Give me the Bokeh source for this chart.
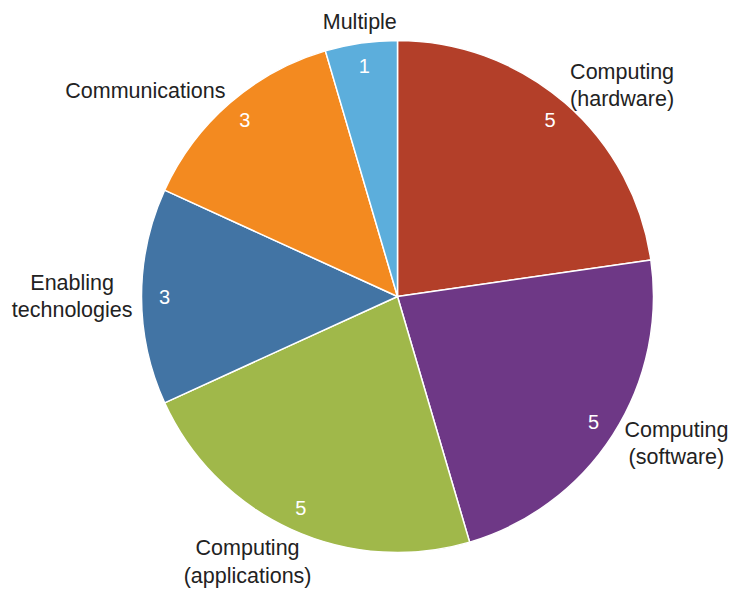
import math
from bokeh.plotting import figure
from bokeh.models import Range1d, ColumnDataSource
from bokeh.core.properties import value
from bokeh.embed import file_html
from bokeh.resources import INLINE

# ---- data ----
categories = ["Computing\n(hardware)", "Computing\n(software)", "Computing\n(applications)",
              "Enabling\ntechnologies", "Communications", "Multiple"]
counts = [5, 5, 5, 3, 3, 1]
colors = ["#B33F29", "#6E3886", "#A0B84A", "#4274A4", "#F38A20", "#5CAEDC"]

# ---- layout ----
W, H = 735, 590
CX, CY, R = 397, 294, 256
R_NUM, R_LAB = 233, 265
FS = 21.5
LHF = 1.15
LH = FS * LHF

AW = {'C': 722, 'o': 556, 'm': 833, 'p': 556, 'u': 556, 't': 278, 'i': 222, 'n': 556,
      'g': 556, '(': 333, ')': 333, 'h': 556, 'a': 556, 'r': 333, 'd': 556, 'w': 722,
      'e': 556, 's': 500, 'f': 278, 'l': 222, 'c': 500, 'E': 667, 'b': 556, 'M': 833,
      'y': 500, ' ': 278}


def text_w(s):
    return max(sum(AW.get(ch, 556) for ch in line) for line in s.split("\n")) / 1000 * FS


total = sum(counts)
starts, ends, mids = [], [], []
cum = 0
for v in counts:
    a0 = math.pi / 2 - 2 * math.pi * cum / total
    a1 = math.pi / 2 - 2 * math.pi * (cum + v) / total
    starts.append(a0)
    ends.append(a1)
    mids.append((a0 + a1) / 2)
    cum += v

nx = [CX + R_NUM * math.cos(m) for m in mids]
ny = [CY + R_NUM * math.sin(m) for m in mids]

lx, ly = [], []
for lab, m in zip(categories, mids):
    c, s = math.cos(m), math.sin(m)
    ax, ay = CX + R_LAB * c, CY + R_LAB * s
    w = text_w(lab)
    h = LH * len(lab.split("\n"))
    k = max(-1.0, min(1.0, 1.5 * c)) if abs(c) > 0.2 else 0.0
    bx = ax + k * w / 2 + (4 if c > 0.8 else 0)
    if s > 0.85:
        by = ay + h / 2
    elif s < -0.85:
        by = ay - h / 2
    else:
        by = ay + (s ** 3) * h / 2
    lx.append(bx)
    ly.append(by)

src = ColumnDataSource(dict(cat=categories, count=[str(v) for v in counts], color=colors,
                            start=starts, end=ends, nx=nx, ny=ny, lx=lx, ly=ly))

p = figure(width=W, height=H, x_range=Range1d(0, W), y_range=Range1d(0, H),
           output_backend="svg", toolbar_location=None, min_border=0)
p.axis.visible = False
p.grid.visible = False
p.outline_line_color = None
p.background_fill_color = "white"
p.border_fill_color = "white"

p.wedge(x=CX, y=CY, radius=R, start_angle="start", end_angle="end", direction="clock",
        fill_color="color", line_color="white", line_width=1.5, source=src)

p.text(x="nx", y="ny", text="count", text_align="center", text_baseline="middle",
       text_color="white", text_font=value("Liberation Sans"), text_font_size="20px", source=src)

p.text(x="lx", y="ly", text="cat", text_align="center", text_baseline="middle",
       text_color="#222222", text_font=value("Liberation Sans"), text_font_size=f"{FS}px",
       text_line_height=LHF, source=src)

open("out.html", "w").write(file_html(p, INLINE))
